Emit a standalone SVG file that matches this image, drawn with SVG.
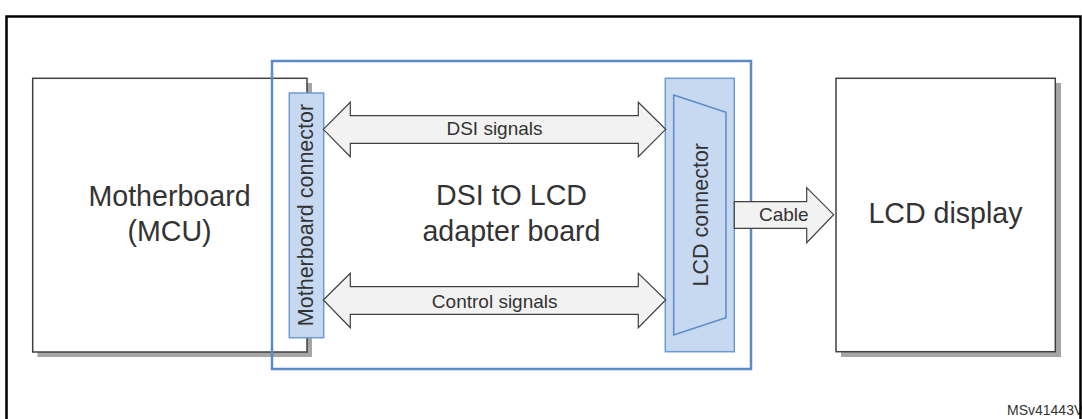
<svg xmlns="http://www.w3.org/2000/svg" width="1082" height="419" viewBox="0 0 1082 419">
<style>
text{font-family:"Liberation Sans",Arial,sans-serif;fill:#333333}
.box{fill:#ffffff;stroke:#404040;stroke-width:1.5}
.shadow{fill:#a6a6a6;stroke:none}
.conn{fill:#c6d9f1;stroke:#6c9bd2;stroke-width:1.5}
.arrow{fill:#f2f2f2;stroke:#404040;stroke-width:1.2;stroke-linejoin:miter}
.big{font-size:28.6px;text-anchor:middle}
.mid{font-size:21.5px;text-anchor:middle}
.lab{font-size:19px;text-anchor:middle}
</style>
<rect width="1082" height="419" fill="#ffffff"/>
<g id="motherboard">
<rect class="shadow" x="37.5" y="83" width="274.5" height="274"/>
<rect class="box" x="32.7" y="78.3" width="274.3" height="273.7"/>
<text class="big" x="169.5" y="205.7">Motherboard</text>
<text class="big" x="169.5" y="240.5">(MCU)</text>
</g>
<g id="lcd-display">
<rect class="shadow" x="841" y="83" width="220" height="274"/>
<rect class="box" x="836" y="78.3" width="219.3" height="273.4"/>
<text class="big" x="945.5" y="223">LCD display</text>
</g>
<g id="adapter-board">
<rect x="272" y="61" width="479" height="308" fill="none" stroke="#5b8ac6" stroke-width="2.5"/>
<text class="big" x="511.5" y="205">DSI tO LCD</text>
<text class="big" x="511.5" y="240.5">adapter board</text>
</g>
<g id="motherboard-connector">
<rect class="conn" x="289.3" y="93" width="34.4" height="244.7"/>
<text class="mid" transform="translate(313.3,215) rotate(-90)">Motherboard connector</text>
</g>
<g id="lcd-connector">
<rect class="conn" x="665.3" y="78.3" width="69" height="273.4"/>
<polygon points="673.7,95 726,112.3 726,317.7 673.7,335" fill="#c6d9f1" stroke="#5b8ac6" stroke-width="1.5"/>
<text class="mid" transform="translate(707.7,214.7) rotate(-90)">LCD connector</text>
</g>
<g id="connectors">
<path class="arrow" d="M323.3,129.3 L350.3,102.3 L350.3,115.7 L638.3,115.7 L638.3,102.3 L665.7,129.3 L638.3,156.7 L638.3,143.3 L350.3,143.3 L350.3,156.7 Z"/>
<text class="lab" x="494.5" y="135.3">DSI signals</text>
<path class="arrow" d="M323.3,300 L350.3,273.3 L350.3,286.7 L638.3,286.7 L638.3,273.3 L665.7,300 L638.3,327.7 L638.3,314.3 L350.3,314.3 L350.3,327.7 Z"/>
<text class="lab" x="494.7" y="307.7">Control signals</text>
<path class="arrow" d="M734.3,201.7 L806.7,201.7 L806.7,187.7 L833.7,214.7 L806.7,242.7 L806.7,228.3 L734.3,228.3 Z"/>
<text class="lab" x="783.8" y="220.7">Cable</text>
</g>
<text x="1007" y="415" font-size="14">MSv41443V</text>
<g id="frame" fill="none" stroke="#000000" stroke-width="2.5">
<path d="M6.5,419 L6.5,16.5 L1080.5,16.5 L1080.5,419"/>
</g>
</svg>
